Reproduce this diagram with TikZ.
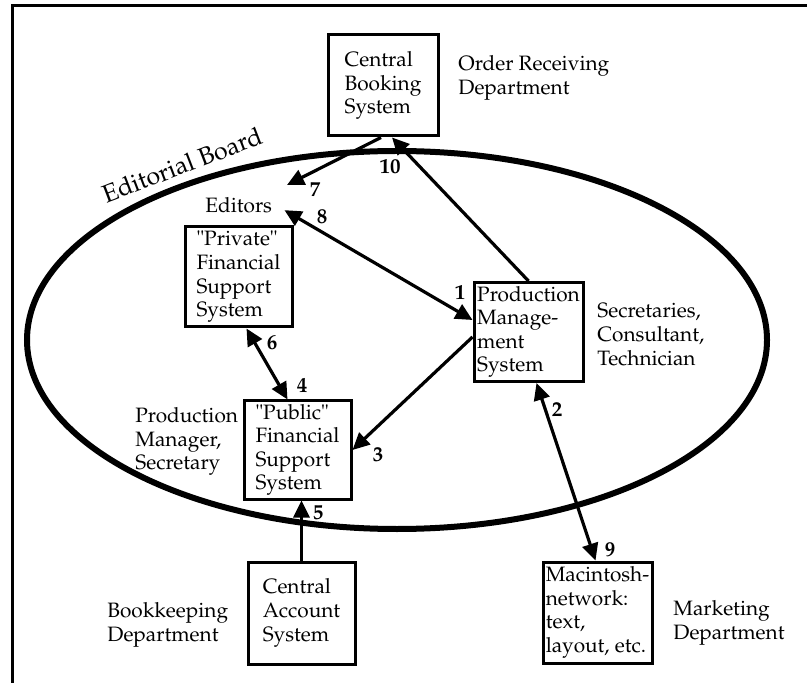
\documentclass[tikz,border=0pt]{standalone}
\usepackage[T1]{fontenc}
\usepackage{mathpazo}
\usetikzlibrary{arrows.meta,calc}
\begin{document}
\begin{tikzpicture}[x=0.5pt,y=-0.5pt,
  sysbox/.style={draw,line width=1.5pt,fill=white,align=left,inner sep=0pt,
    font=\fontsize{10.4}{11.8}\selectfont},
  lbl/.style={align=left,inner sep=0pt,anchor=north west,
    font=\fontsize{10.4}{11.8}\selectfont},
  num/.style={inner sep=0pt,font=\fontsize{10.5}{11}\selectfont\bfseries},
  tip/.tip={Triangle[length=8.5pt,width=8pt]},
  flow/.style={line width=1.6pt,-tip},
  both/.style={line width=1.6pt,tip-tip},
]
\useasboundingbox (0,0) rectangle (807,683);

% page frame (top and left rules)
\draw[line width=1.5pt] (807,6) -- (12,6) -- (12,683);

% the editorial board
\draw[line width=3pt] (397,340) ellipse [x radius=370, y radius=189];
\node[rotate=21,inner sep=0pt,font=\fontsize{12.5}{14}\selectfont] (eb) at (182,165) {Editorial Board};

% systems
\node[sysbox,minimum width=55pt,minimum height=50.5pt] (cbs) at (383,85.5) {Central\\Booking\\System};
\node[sysbox,minimum width=53.5pt,minimum height=50pt] (priv) at (238.5,277) {\textquotedbl Private\textquotedbl\\Financial\\Support\\System};
\node[sysbox,minimum width=54.5pt,minimum height=49.5pt] (pm) at (528.5,332) {Production\\Manage-\\ment\\System};
\node[sysbox,minimum width=53.5pt,minimum height=49pt] (pub) at (297.5,450) {\textquotedbl Public\textquotedbl\\Financial\\Support\\System};
\node[sysbox,minimum width=53.5pt,minimum height=51pt] (cas) at (301.5,613) {Central\\Account\\System};
\node[sysbox,minimum width=54.5pt,minimum height=50.5pt] (mac) at (597.5,612.5) {Macintosh-\\network:\\text,\\layout, etc.};

% departments and people
\node[lbl] (ord) at (458,55) {Order Receiving\\Department};
\node[lbl] (ed) at (205,197) {Editors};
\node[lbl] (pmg) at (135,407) {Production\\Manager,\\Secretary};
\node[lbl] (sec) at (597,303) {Secretaries,\\Consultant,\\Technician};
\node[lbl] (bk) at (107,602) {Bookkeeping\\Department};
\node[lbl] (mk) at (673,600) {Marketing\\Department};

% information flows
\coordinate (e7) at (287,185);
\draw[flow] ($(cbs.south)+(-2,0)$) -- (e7);
\draw[flow] (pm.north) -- ($(cbs.south)+(9,0)$);
\draw[both] ($(ed.east)+(12,5)$) -- ($(pm.west)+(0,-12)$);
\draw[flow] ($(pm.west)+(0,5)$) -- (pub.east);
\draw[both] ($(priv.south)+(8,0)$) -- ($(pub.north)+(-10,0)$);
\draw[flow] (cas.north) -- (cas.north |- pub.south);
\draw[both] ($(pm.south)+(8,0)$) -- ($(mac.north)+(-2,0)$);

% flow numbers
\node[num] (n1) at (460,293) {1};
\node[num] (n2) at (557,410) {2};
\node[num] (n3) at (378,455) {3};
\node[num] (n4) at (302,386) {4};
\node[num] (n5) at (318,513) {5};
\node[num] (n6) at (272,343) {6};
\node[num] (n7) at (315,190) {7};
\node[num] (n8) at (322,217) {8};
\node[num] (n9) at (610,550) {9};
\node[num] (n10) at (390,167) {10};
\end{tikzpicture}
\end{document}
